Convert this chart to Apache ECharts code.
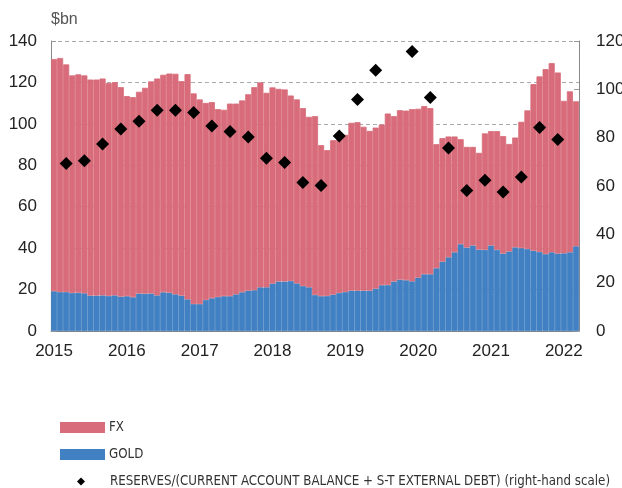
<!DOCTYPE html>
<html>
<head>
<meta charset="utf-8">
<script src="https://cdn.jsdelivr.net/npm/echarts@6/dist/echarts.min.js"></script>
<style>
  html, body { margin: 0; padding: 0; background: #fff; }
  #main { width: 622px; height: 488px; }
</style>
</head>
<body>
<div id="main"></div>
<script>
  // monthly categories, Jan 2015 - Mar 2022
  const months = []
  for (let y = 2015; y <= 2022; y++) {
    for (let m = 1; m <= 12; m++) {
      if (y === 2022 && m > 3) break
      months.push(y + '-' + String(m).padStart(2, '0'))
    }
  }

  const gold = [
    19.2, 18.8, 18.8, 18.4, 18.5, 18.2, 17.1, 17.1, 17.2, 16.9, 17.2, 16.6,
    16.8, 16.3, 18.1, 18.0, 18.1, 17.2, 18.7, 18.5, 17.7, 17.1, 15.3, 13.0,
    13.0, 15.0, 15.8, 16.4, 16.8, 16.8, 17.7, 18.7, 19.5, 19.7, 21.1, 21.1,
    22.9, 23.9, 23.9, 24.2, 23.0, 21.7, 21.1, 17.4, 16.8, 16.9, 17.6, 18.4,
    18.8, 19.5, 19.5, 19.5, 19.5, 20.5, 22.1, 22.2, 23.9, 24.8, 24.5, 24.0,
    25.8, 27.4, 27.4, 30.3, 33.5, 35.6, 38.0, 41.9, 40.3, 41.3, 39.3, 39.2,
    41.3, 39.2, 37.4, 38.4, 40.4, 40.0, 39.6, 38.8, 38.2, 37.1, 38.0, 37.4,
    37.5, 38.0, 40.9
  ]

  const fx = [
    112.1, 113.0, 109.9, 105.0, 105.4, 105.2, 104.3, 104.3, 104.7, 102.8, 102.9, 101.1,
    96.6, 96.6, 97.4, 99.4, 102.4, 104.7, 105.0, 105.8, 106.5, 103.5, 108.7, 101.7,
    98.8, 95.1, 94.7, 90.7, 90.0, 93.0, 92.1, 92.6, 94.8, 98.0, 98.9, 93.9,
    94.7, 93.0, 92.7, 89.5, 88.8, 85.9, 82.3, 86.3, 72.9, 70.4, 74.5, 74.1,
    75.9, 81.0, 81.3, 79.1, 77.1, 77.7, 77.6, 82.8, 79.8, 81.8, 81.9, 83.1,
    81.5, 81.2, 80.2, 59.9, 59.6, 58.3, 55.9, 50.7, 48.6, 47.6, 46.7, 56.2,
    55.2, 57.3, 56.7, 51.9, 53.0, 61.0, 66.9, 80.4, 84.7, 89.3, 91.3, 87.4,
    73.6, 77.7, 70.0
  ]

  const ratioDates = [
    '2015-03', '2015-06', '2015-09', '2015-12', '2016-03', '2016-06', '2016-09', '2016-12',
    '2017-03', '2017-06', '2017-09', '2017-12', '2018-03', '2018-06', '2018-09', '2018-12',
    '2019-03', '2019-06', '2019-12', '2020-03', '2020-06', '2020-09', '2020-12',
    '2021-03', '2021-06', '2021-09', '2021-12'
  ]
  const ratio = [
    69.3, 70.5, 77.4, 83.6, 86.8, 91.3, 91.3, 90.4,
    84.8, 82.6, 80.3, 71.5, 69.7, 61.5, 60.2, 80.7,
    95.8, 107.9, 115.7, 96.6, 75.7, 58.1, 62.4,
    57.5, 63.7, 84.2, 79.2
  ]

  const leftTicks = [0, 140, 20]
  const rightTicks = [0, 120, 20]

  const ratioName = 'RESERVES/(CURRENT ACCOUNT BALANCE + S-T EXTERNAL DEBT) (right-hand scale)'
  const fontMain = "'Liberation Sans', Arial, sans-serif"
  const fontNarrow = "'Liberation Sans Narrow', 'DejaVu Sans Condensed', 'Liberation Sans', sans-serif"
  const yearOnly = (i) => i % 12 === 0

  const legendText = {
    fontFamily: fontNarrow,
    fontSize: 13.2,
    color: '#333'
  }

  const option = {
    animation: false,
    grid: {
      left: 51,
      right: 43,
      top: 41,
      bottom: 157,
      outerBoundsMode: 'none'
    },
    title: {
      text: '$bn',
      left: 51,
      top: 12,
      padding: 0,
      textStyle: {
        fontFamily: fontMain,
        fontSize: 16,
        fontWeight: 'normal',
        color: '#555'
      }
    },
    legend: [{
      left: 60,
      top: 421,
      padding: 0,
      itemWidth: 43,
      itemHeight: 9,
      data: [{ name: 'FX', icon: 'rect' }],
      textStyle: legendText
    }, {
      left: 60,
      top: 448,
      padding: 0,
      itemWidth: 43,
      itemHeight: 9,
      data: [{ name: 'GOLD', icon: 'rect' }],
      textStyle: legendText
    }, {
      left: 77,
      top: 475,
      padding: 0,
      itemWidth: 8,
      itemHeight: 8,
      data: [{ name: ratioName, icon: 'diamond' }],
      textStyle: Object.assign({ padding: [0, 0, 0, 20] }, legendText)
    }],
    xAxis: {
      type: 'category',
      data: months,
      boundaryGap: true,
      axisLine: { lineStyle: { color: '#888', width: 1 } },
      axisTick: { inside: true, length: 5, interval: yearOnly, lineStyle: { color: '#999' } },
      axisLabel: {
        interval: yearOnly,
        formatter: (v) => v.slice(0, 4),
        margin: 12,
        fontFamily: fontMain,
        fontSize: 17,
        color: '#222'
      }
    },
    yAxis: [{
      type: 'value',
      min: leftTicks[0],
      max: leftTicks[1],
      interval: leftTicks[2],
      axisLine: { show: true, lineStyle: { color: '#888' } },
      axisTick: { show: true, inside: true, length: 5, lineStyle: { color: '#999' } },
      axisLabel: { margin: 14, fontFamily: fontMain, fontSize: 17, color: '#222' },
      splitLine: { show: true, lineStyle: { type: [4, 3], color: '#aaa' } }
    }, {
      type: 'value',
      position: 'right',
      min: rightTicks[0],
      max: rightTicks[1],
      interval: rightTicks[2],
      axisLine: { show: true, lineStyle: { color: '#888' } },
      axisTick: { show: true, inside: true, length: 5, lineStyle: { color: '#999' } },
      axisLabel: { margin: 17, fontFamily: fontMain, fontSize: 17, color: '#222' },
      splitLine: { show: false }
    }],
    series: [{
        name: 'GOLD',
        type: 'bar',
        stack: 'reserves',
        barCategoryGap: '0%',
        itemStyle: { color: '#4180c2', borderColor: '#4180c2', borderWidth: 0.8 },
        data: gold
      },
      {
        name: 'FX',
        type: 'bar',
        stack: 'reserves',
        barCategoryGap: '0%',
        itemStyle: { color: '#d86c7a', borderColor: '#d86c7a', borderWidth: 0.8 },
        data: fx
      },
      {
        name: ratioName,
        type: 'scatter',
        yAxisIndex: 1,
        symbol: 'diamond',
        symbolSize: 13,
        itemStyle: { color: '#000', opacity: 1 },
        data: ratioDates.map((d, i) => [d, ratio[i]])
      }
    ]
  }

  const chart = echarts.init(document.getElementById('main'))
  chart.setOption(option)
</script>
</body>
</html>
